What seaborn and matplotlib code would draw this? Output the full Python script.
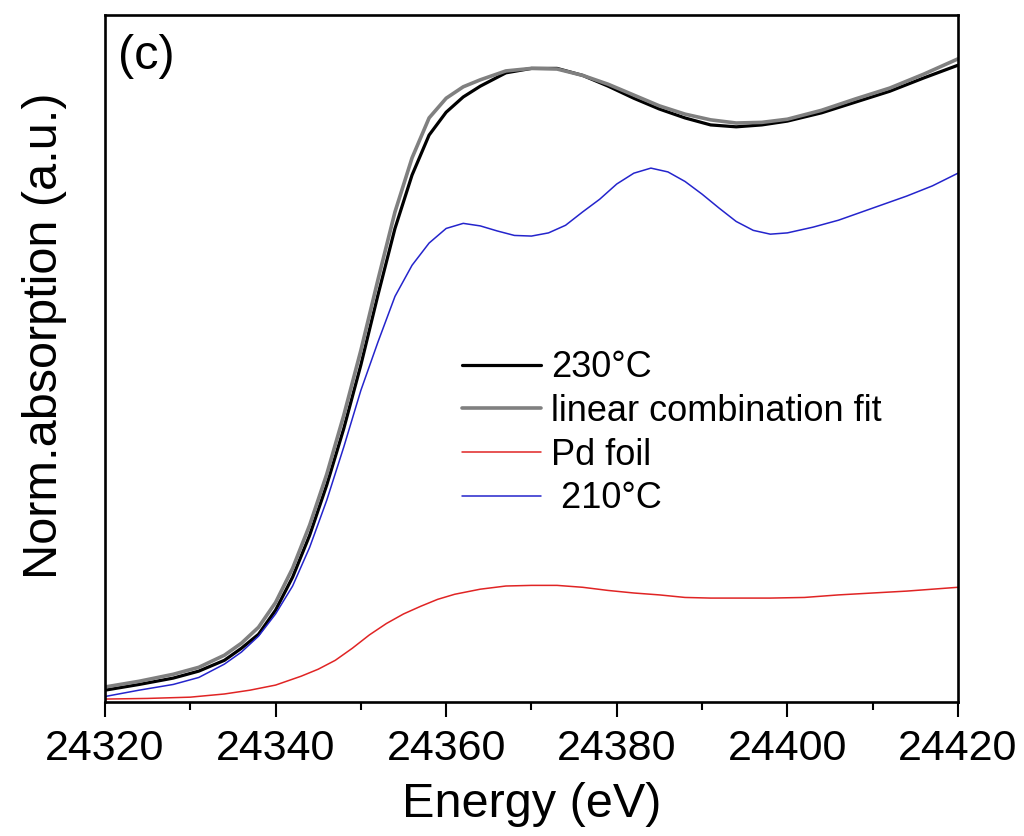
import matplotlib
matplotlib.use("Agg")
import matplotlib.pyplot as plt
from matplotlib.ticker import MultipleLocator, NullLocator
import numpy as np
import pandas as pd
import seaborn as sns

# ---- Pd K-edge XANES spectra ----
energy_230 = [24320, 24324, 24328, 24331, 24334, 24336, 24338, 24340, 24342, 24344,
              24346, 24348, 24350, 24352, 24354, 24356, 24358, 24360, 24362, 24364,
              24367, 24370, 24373, 24376, 24379, 24382, 24385, 24388, 24391, 24394,
              24397, 24400, 24404, 24408, 24412, 24416, 24420]
mu_230 = [0.019, 0.028, 0.038, 0.049, 0.066, 0.085, 0.107, 0.145, 0.197, 0.263,
          0.342, 0.431, 0.531, 0.641, 0.746, 0.830, 0.893, 0.929, 0.953, 0.970,
          0.991, 0.998, 0.998, 0.987, 0.970, 0.951, 0.934, 0.920, 0.909, 0.906,
          0.909, 0.915, 0.928, 0.945, 0.962, 0.983, 1.003]
mu_fit = [0.024, 0.033, 0.044, 0.055, 0.074, 0.093, 0.118, 0.157, 0.211, 0.279,
          0.359, 0.452, 0.554, 0.665, 0.772, 0.857, 0.920, 0.951, 0.969, 0.980,
          0.994, 0.998, 0.997, 0.987, 0.973, 0.956, 0.939, 0.926, 0.917, 0.912,
          0.913, 0.918, 0.932, 0.950, 0.967, 0.989, 1.013]

energy_210 = [24320, 24324, 24328, 24331, 24334, 24336, 24338, 24340, 24342, 24344,
              24346, 24348, 24350, 24352, 24354, 24356, 24358, 24360, 24362, 24364,
              24366, 24368, 24370, 24372, 24374, 24376, 24378, 24380, 24382, 24384,
              24386, 24388, 24390, 24392, 24394, 24396, 24398, 24400, 24403, 24406,
              24410, 24414, 24417, 24420]
mu_210 = [0.009, 0.019, 0.028, 0.039, 0.060, 0.079, 0.104, 0.139, 0.183, 0.244,
          0.318, 0.402, 0.491, 0.567, 0.639, 0.688, 0.723, 0.746, 0.754, 0.750,
          0.742, 0.735, 0.734, 0.739, 0.751, 0.772, 0.792, 0.816, 0.833, 0.841,
          0.835, 0.820, 0.800, 0.778, 0.757, 0.743, 0.737, 0.739, 0.748, 0.759,
          0.778, 0.797, 0.813, 0.833]

energy_foil = [24320, 24325, 24330, 24334, 24337, 24340, 24343, 24345, 24347, 24349,
               24351, 24353, 24355, 24357, 24359, 24361, 24364, 24367, 24370, 24373,
               24376, 24379, 24382, 24385, 24388, 24391, 24394, 24398, 24402, 24406,
               24410, 24414, 24417, 24420]
mu_foil = [0.005, 0.006, 0.008, 0.013, 0.019, 0.027, 0.041, 0.052, 0.066, 0.085,
           0.106, 0.124, 0.139, 0.151, 0.162, 0.170, 0.178, 0.183, 0.184, 0.184,
           0.181, 0.176, 0.172, 0.169, 0.165, 0.164, 0.164, 0.164, 0.165, 0.169,
           0.172, 0.175, 0.178, 0.181]

labels = ["230\u00b0C", "linear combination fit", "Pd foil", " 210\u00b0C"]
colors = ["#000000", "#808080", "#e02424", "#2424cc"]
widths = [2.3, 2.6, 1.1, 1.1]

x_ticks = [24320, 24340, 24360, 24380, 24400, 24420]

sns.set_style("ticks")
plt.rcParams["font.family"] = ["Liberation Sans", "DejaVu Sans"]
plt.rcParams["text.color"] = "black"
plt.rcParams["axes.labelcolor"] = "black"
plt.rcParams["xtick.color"] = "black"
plt.rcParams["axes.linewidth"] = 1.9

fig = plt.figure(figsize=(10.24, 8.36), dpi=100)
ax = fig.add_axes([0.1025, 0.160, 0.833, 0.822])

series = [
    (energy_230, mu_230),
    (energy_230, mu_fit),
    (energy_foil, mu_foil),
    (energy_210, mu_210),
]
for (xs, ys), lab, col, lw in zip(series, labels, colors, widths):
    df = pd.DataFrame({"E": xs, "mu": ys})
    sns.lineplot(data=df, x="E", y="mu", ax=ax, color=col, linewidth=lw,
                 label=lab, sort=True, estimator=None)

ax.set_xlim(24320, 24420)
ax.set_ylim(0, 1.082)
ax.set_xticks(x_ticks)
ax.set_xticklabels([str(t) for t in x_ticks])
ax.xaxis.set_minor_locator(MultipleLocator(10))
ax.yaxis.set_major_locator(NullLocator())
ax.tick_params(axis="x", which="major", direction="out", length=10.5, width=1.5,
               labelsize=31, pad=9, top=False, colors="black")
ax.tick_params(axis="x", which="minor", direction="out", length=5.5, width=1.5,
               top=False, colors="black")
ax.tick_params(axis="y", left=False, right=False, labelleft=False)
for s in ax.spines.values():
    s.set_visible(True)
    s.set_color("black")
    s.set_linewidth(1.9)

ax.set_xlabel("Energy (eV)", fontsize=35, labelpad=9, color="black")
ax.set_ylabel("Norm.absorption (a.u.)", fontsize=35, color="black")
ax.yaxis.set_label_coords(-0.044, 0.533)

ax.text(0.015, 0.939, "(c)", transform=ax.transAxes, fontsize=35,
        ha="left", va="center", color="black")

leg = ax.legend(loc="upper left", bbox_to_anchor=(0.451, 0.581),
                bbox_transform=fig.transFigure, frameon=False, fontsize=26,
                handlelength=2.2, handletextpad=0.28, labelspacing=0.24,
                borderpad=0, borderaxespad=0)
for t in leg.get_texts():
    t.set_color("black")

fig.savefig("out.png", dpi=100)
